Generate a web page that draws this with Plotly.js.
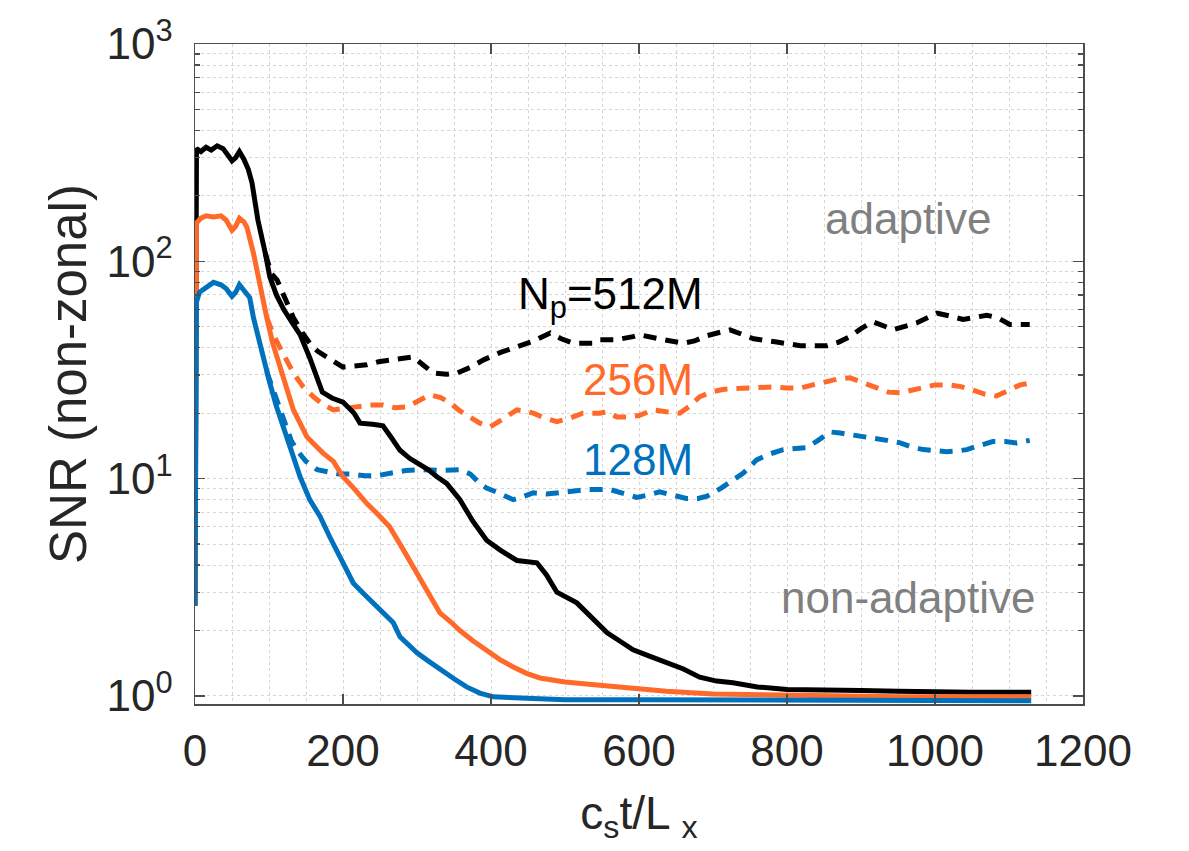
<!DOCTYPE html>
<html>
<head>
<meta charset="utf-8">
<script src="https://cdn.plot.ly/plotly-3.0.1.min.js"></script>
<style>html,body{margin:0;padding:0;background:#fff;}#chart{width:1189px;height:851px;}</style>
</head>
<body>
<div id="chart"></div>
<script>
// ---- data ----
const black_solid_x = [0,2,8,15,22,30,38,45,50,55,60,66,72,77,85,95,101,110,120,130,142,155,165,172,185,200,215,223,240,254,265,277,290,300,315,327,340,358,375,394,412,435,462,475,489,516,535,557,575,592,615,637,660,682,705,727,760,800,850,900,950,1000,1050,1090,1130];
const black_solid_y = [2.6,330,320,335,325,340,330,305,290,300,320,295,265,230,155,109,85,70,60,53,46,36,29,25,23.5,22.5,20,18,17.8,17.5,15.5,13.5,12.4,11.8,11,10.2,9.5,8.0,6.4,5.2,4.7,4.2,4.1,3.6,3.0,2.68,2.3,1.95,1.78,1.63,1.52,1.42,1.33,1.22,1.17,1.15,1.1,1.07,1.07,1.06,1.05,1.04,1.04,1.04,1.04];

const orange_solid_x = [0,2,8,15,25,35,42,50,55,60,66,70,79,88,97,105,115,124,133,142,151,160,173,187,200,215,232,248,263,280,295,313,331,345,358,375,394,412,430,448,466,500,547,590,637,700,760,850,950,1050,1130];
const orange_solid_y = [2.6,150,158,162,160,162,155,139,145,158,152,144,109,76,55,42,32.6,26,20.7,18,15.6,14.5,13.1,12,10.2,9,7.7,6.8,6.0,4.8,3.9,3.07,2.41,2.2,2.0,1.8,1.63,1.47,1.36,1.27,1.21,1.16,1.12,1.08,1.05,1.02,1.01,1.0,0.99,0.99,0.99];

const blue_solid_x = [0,2,6,15,25,35,42,50,55,60,65,70,74,79,90,101,110,119,130,142,155,169,182,196,214,228,241,255,268,277,290,300,315,331,350,367,385,403,450,500,600,700,800,900,1000,1130];
const blue_solid_y = [2.6,65,72,76,80,78,75,69,72,78,74,71.5,68,55,38,27.6,21.5,17.3,13.5,10.2,8.0,6.7,5.4,4.4,3.3,2.95,2.68,2.4,2.17,1.87,1.7,1.58,1.45,1.32,1.2,1.1,1.03,0.99,0.97,0.96,0.96,0.96,0.955,0.955,0.95,0.95];

const black_dash_x = [95,103,111,122,133,145,155,166,178,190,200,215,232,248,263,280,295,310,322,340,354,372,390,412,435,458,480,495,511,525,538,547,570,592,601,633,660,675,692,723,755,786,818,854,870,885,900,916,944,975,1003,1020,1038,1070,1085,1101,1128];
const black_dash_y = [109,88,82,68,55,47,42,38.5,36.3,34,32.6,33,33.4,34.5,35.2,36,36.3,33,30.6,30.2,30.6,32.5,35.2,38,40.2,43,46.8,44,42,42,42,43.6,43.6,45,45.9,43.6,42,43,45.5,48.4,44,42.5,40.9,40.9,42.5,45,49,52.7,48.5,52,57.7,56,54,56.5,55,51.2,51.2];

const orange_dash_x = [97,106,115,124,133,146,160,173,187,200,218,236,254,270,286,302,318,332,345,358,372,385,399,417,435,446,457,473,489,507,524,547,556,570,583,600,619,637,655,668,682,697,713,730,750,781,800,818,835,854,870,885,903,921,937,953,968,984,1000,1020,1035,1051,1067,1083,1100,1115,1128];
const orange_dash_y = [55,46,40,35,30.6,26.5,23.8,22,20.7,21,21.4,21.8,21.8,21.2,21.4,22.8,24.3,23.6,22.3,20.5,19.2,18,17.3,18.8,20.7,20.5,20.0,19,18.3,19,20,20,20.3,19.2,19.2,19.5,20.7,20.3,20,21.5,23.8,25,25.7,26,26.1,26.4,26.1,26.1,27,27.9,28.8,29.1,27.5,26.1,25,24.8,25.5,26.4,27,27,26.5,25.6,24.5,24.0,25.5,27,27.5];

const blue_dash_x = [97,108,120,130,137,150,165,180,195,209,230,245,264,285,304,330,358,372,385,394,410,430,445,457,475,493,510,530,561,580,597,612,628,645,664,680,692,710,727,741,759,777,795,810,827,842,858,872,889,916,935,953,968,984,1000,1016,1030,1043,1060,1078,1095,1110,1128];
const blue_dash_y = [31,24.3,18,15,13.6,12,11,10.7,10.5,10.5,10.3,10.3,10.6,10.9,11.0,10.9,11.0,10.5,9.5,9.05,8.6,8.0,8.3,8.6,8.5,8.6,8.7,8.9,8.9,8.5,8.2,8.4,8.7,8.4,8.1,8.1,8.3,9.0,9.8,10.6,12.2,13,13.6,13.7,13.9,15,16.4,16.2,15.9,15.4,15,14.6,14,13.6,13.4,13.3,13.4,13.6,14.2,14.8,14.8,14.6,15];

const x_tick_vals = [0,200,400,600,800,1000,1200];
const x_tick_text = ['0','200','400','600','800','1000','1200'];
const y_tick_vals = [1,10,100,1000];
const y_tick_text = ['10<sup>0</sup>','10<sup>1</sup>','10<sup>2</sup>','10<sup>3</sup>'];
const y_minor_vals = [2,3,4,5,6,7,8,9,20,30,40,50,60,70,80,90,200,300,400,500,600,700,800,900];

// ---- styling ----
const BLACK = '#000000', ORANGE = '#FF6929', BLUE = '#0072BD', GREY = '#808080';
const FONT = 'Liberation Sans, Arial, Helvetica, sans-serif';
const DASH = '13px,9px';

function tr(x, y, color, dash) {
  return {x: x, y: y, type: 'scatter', mode: 'lines',
    line: {color: color, width: 5, dash: dash || 'solid'}, hoverinfo: 'skip'};
}

const data = [
  tr(blue_dash_x, blue_dash_y, BLUE, DASH),
  tr(orange_dash_x, orange_dash_y, ORANGE, DASH),
  tr(black_dash_x, black_dash_y, BLACK, DASH),
  tr(black_solid_x, black_solid_y, BLACK),
  tr(orange_solid_x, orange_solid_y, ORANGE),
  tr(blue_solid_x, blue_solid_y, BLUE)
];

const GRID = '#d6d6d6';

const layout = {
  width: 1189, height: 851,
  margin: {l: 195, r: 106, t: 44, b: 147},
  paper_bgcolor: '#ffffff', plot_bgcolor: '#ffffff',
  showlegend: false,
  font: {family: FONT, size: 44, color: '#262626'},
  xaxis: {
    range: [0, 1200], tickmode: 'array', tickvals: x_tick_vals, ticktext: x_tick_text,
    showline: true, linecolor: '#4d4d4d', linewidth: 1.5, mirror: 'ticks',
    ticks: 'inside', ticklen: 10, tickcolor: '#4d4d4d', tickwidth: 1.5,
    showgrid: true, gridcolor: GRID, gridwidth: 1, griddash: 'dot',
    zeroline: false, ticklabelstandoff: 8,
    tickfont: {family: FONT, size: 44, color: '#262626'},
    minor: {dtick: 50, showgrid: true, gridcolor: GRID, gridwidth: 1, griddash: 'dot', ticks: ''},
    title: {text: 'c<sub>s</sub>t/L <sub>x</sub>', font: {family: FONT, size: 46, color: '#262626'}, standoff: 22},
    automargin: false
  },
  yaxis: {
    type: 'log', range: [Math.log10(0.918), 3],
    tickmode: 'array', tickvals: y_tick_vals, ticktext: y_tick_text,
    showline: true, linecolor: '#4d4d4d', linewidth: 1.5, mirror: 'ticks',
    ticks: 'inside', ticklen: 10, tickcolor: '#4d4d4d', tickwidth: 1.5,
    showgrid: true, gridcolor: GRID, gridwidth: 1, griddash: 'dot',
    zeroline: false, ticklabelstandoff: 12,
    tickfont: {family: FONT, size: 44, color: '#262626'},
    minor: {tickmode: 'array', tickvals: y_minor_vals, showgrid: true, gridcolor: GRID, gridwidth: 1, griddash: 'dot',
            ticks: 'inside', ticklen: 5, tickcolor: '#4d4d4d', tickwidth: 1.2},
    title: {text: 'SNR (non-zonal)', font: {family: FONT, size: 51, color: '#262626'}, standoff: 4},
    automargin: false
  },
  annotations: [
    {xref: 'paper', yref: 'paper', x: 0.803, y: 0.735, xanchor: 'center', yanchor: 'middle', showarrow: false,
     text: 'adaptive', font: {family: FONT, size: 44, color: GREY}},
    {xref: 'paper', yref: 'paper', x: 0.803, y: 0.161, xanchor: 'center', yanchor: 'middle', showarrow: false,
     text: 'non-adaptive', font: {family: FONT, size: 44, color: GREY}},
    {xref: 'paper', yref: 'paper', x: 0.362, y: 0.617, xanchor: 'left', yanchor: 'middle', showarrow: false,
     text: 'N<sub>p</sub>=512M', font: {family: FONT, size: 44, color: BLACK}},
    {xref: 'paper', yref: 'paper', x: 0.435, y: 0.492, xanchor: 'left', yanchor: 'middle', showarrow: false,
     text: '256M', font: {family: FONT, size: 44, color: ORANGE}},
    {xref: 'paper', yref: 'paper', x: 0.435, y: 0.371, xanchor: 'left', yanchor: 'middle', showarrow: false,
     text: '128M', font: {family: FONT, size: 44, color: BLUE}}
  ]
};

Plotly.newPlot('chart', data, layout, {staticPlot: true, displayModeBar: false});
</script>
</body>
</html>
